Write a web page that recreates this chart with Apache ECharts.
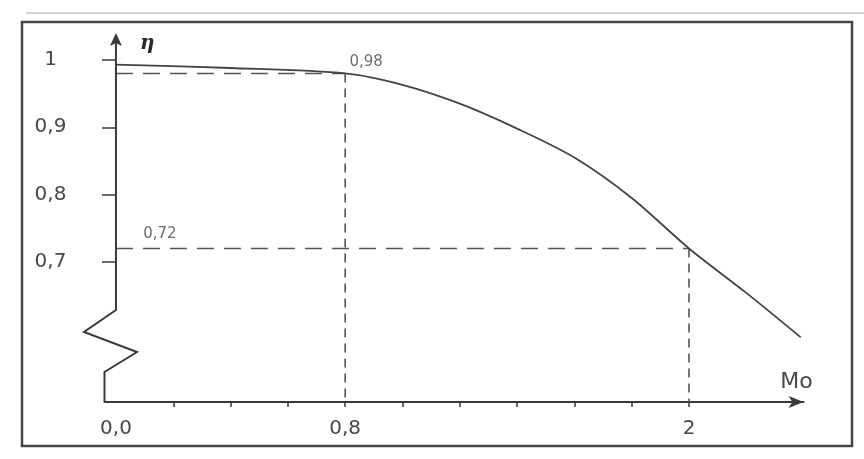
<!DOCTYPE html>
<html>
<head>
<meta charset="utf-8">
<script src="https://cdn.jsdelivr.net/npm/echarts@6/dist/echarts.min.js"></script>
<style>
  html, body { margin: 0; padding: 0; background: #ffffff; }
  #chart { width: 864px; height: 459px; }
</style>
</head>
<body>
<div id="chart"></div>
<script>
// Efficiency η as a function of the flight Mach number Mo
const machValues = [0, 0.4, 0.8, 1.0, 1.2, 1.4, 1.6, 1.8, 2.0, 2.2, 2.39];
const etaValues  = [0.993, 0.988, 0.98, 0.963, 0.935, 0.898, 0.855, 0.795, 0.72, 0.654, 0.588];

// Read-off points marked with dashed guides
const markedMach = [0.8, 2.0];
const markedEta  = [0.98, 0.72];

// Axis ticks and labels
const xTickValues  = [0.2, 0.4, 0.6, 0.8, 1.0, 1.2, 1.4, 1.6, 1.8, 2.0];
const xLabelValues = [0, 0.8, 2];
const xLabelTexts  = ['0,0', '0,8', '2'];
const yTickValues  = [0.7, 0.8, 0.9, 1];
const yLabelTexts  = ['0,7', '0,8', '0,9', '1'];

const X_MIN = -0.04, X_MAX = 2.4;
const Y_MIN = 0.492, Y_MAX = 1.04;

const INK = '#3a3a3a';
const TEXT = '#484848';
const FONT = 'DejaVu Sans';

const toComma = v => v.toFixed(2).replace('.', ',');

const curve = machValues.map((m, i) => [m, etaValues[i]]);

// dashed guides: horizontal from the η axis, vertical down to the Mo axis
const guideSeries = [];
markedMach.forEach((m, i) => {
  const e = markedEta[i];
  guideSeries.push({
    type: 'line', silent: true, symbol: 'none', z: 1,
    data: [[0, e], [m, e]],
    lineStyle: { color: '#555', width: 1.5, type: [17, 10] }
  });
  guideSeries.push({
    type: 'line', silent: true, symbol: 'none', z: 1,
    data: [[m, e], [m, Y_MIN]],
    lineStyle: { color: '#555', width: 1.6, type: [9, 6] }
  });
});

// value labels for the marked points
const labelSeries = {
  type: 'scatter', silent: true, symbolSize: 0.1, z: 3,
  data: [
    { value: [markedMach[0], markedEta[0]], label: { offset: [21, 0] } },
    { value: [0, markedEta[1]], label: { offset: [44, -3] } }
  ],
  label: {
    show: true, position: 'top', distance: 4,
    formatter: p => toComma(p.value[1]),
    color: TEXT, fontFamily: FONT, fontSize: 15
  }
};

const chart = echarts.init(document.getElementById('chart'), null, { renderer: 'canvas' });

chart.setOption({
  backgroundColor: '#ffffff',
  animation: false,
  grid: { left: 104.5, right: 60.4, top: 33, bottom: 57, containLabel: false },
  xAxis: {
    type: 'value', min: X_MIN, max: X_MAX,
    name: 'Mo', nameLocation: 'end', nameGap: 9,
    nameTextStyle: {
      color: TEXT, fontFamily: FONT, fontSize: 22,
      align: 'right', verticalAlign: 'bottom', padding: [0, 0, 9, 0]
    },
    axisLine: {
      show: true, onZero: false,
      symbol: ['none', 'arrow'], symbolSize: [9, 15],
      lineStyle: { color: INK, width: 2 }
    },
    axisTick: {
      show: true, length: 5, customValues: xTickValues,
      lineStyle: { color: INK, width: 1.5 }
    },
    axisLabel: {
      show: true, customValues: xLabelValues, margin: 17,
      formatter: v => xLabelTexts[xLabelValues.indexOf(v)],
      color: TEXT, fontFamily: FONT, fontSize: 20
    },
    splitLine: { show: false }
  },
  yAxis: {
    type: 'value', min: Y_MIN, max: Y_MAX,
    axisLine: { show: false, onZero: true },
    axisTick: {
      show: true, length: 14, customValues: yTickValues,
      lineStyle: { color: INK, width: 1.5 }
    },
    axisLabel: {
      show: true, customValues: yTickValues, margin: 54, align: 'center',
      formatter: v => yLabelTexts[yTickValues.indexOf(v)],
      color: TEXT, fontFamily: FONT, fontSize: 20
    },
    splitLine: { show: false }
  },
  series: [
    ...guideSeries,
    {
      type: 'line', name: 'η', data: curve, z: 2,
      smooth: 0.3, symbol: 'none',
      lineStyle: { color: '#444', width: 1.8 }
    },
    labelSeries
  ]
});

// η axis with its broken lower part, arrow head and the page frame
function drawDecor() {
  const origin = chart.convertToPixel({ gridIndex: 0 }, [0, Y_MIN]);
  const top = chart.convertToPixel({ gridIndex: 0 }, [0, Y_MAX]);
  const left = chart.convertToPixel({ gridIndex: 0 }, [X_MIN, Y_MIN]);
  const x0 = origin[0], yb = origin[1], yt = top[1], xl = left[0];
  const breakY = yb - 92;

  chart.setOption({
    graphic: [
      {
        type: 'polyline', silent: true, z: 10,
        shape: {
          points: [
            [x0, yt + 8], [x0, breakY],
            [x0 - 32, breakY + 22], [x0 + 21, breakY + 42],
            [xl, breakY + 62], [xl, yb]
          ]
        },
        style: { stroke: INK, lineWidth: 2, fill: null, lineJoin: 'miter' }
      },
      {
        type: 'polygon', silent: true, z: 10,
        shape: { points: [[x0, yt], [x0 - 6, yt + 13], [x0, yt + 10], [x0 + 6, yt + 13]] },
        style: { fill: INK }
      },
      {
        type: 'text', silent: true, z: 10, left: x0 + 24, top: yt + 1,
        style: {
          text: 'η', fill: '#2a2a2a',
          font: 'italic bold 20px "DejaVu Serif"'
        }
      },
      {
        type: 'line', silent: true, z: 0,
        shape: { x1: 26, y1: 13, x2: 864, y2: 13 },
        style: { stroke: '#aaaaaa', lineWidth: 1 }
      },
      {
        type: 'rect', silent: true, z: 0,
        shape: { x: 22, y: 22, width: 830, height: 424 },
        style: { stroke: '#444', lineWidth: 2.5, fill: null }
      }
    ]
  });
}
drawDecor();
</script>
</body>
</html>
